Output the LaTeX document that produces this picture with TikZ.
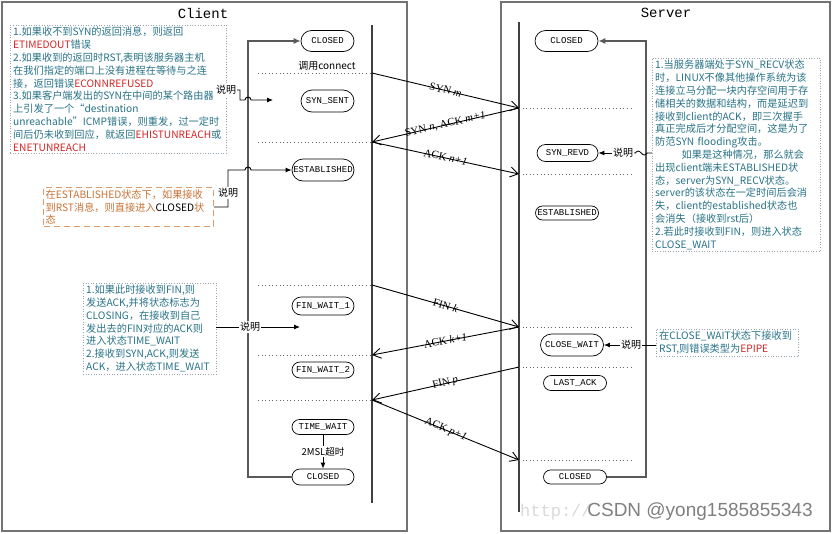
\documentclass[tikz,border=0pt]{standalone}
\usepackage{fontspec}
\setmainfont{Liberation Serif}
\newfontfamily\cjk{Noto Sans CJK SC}
\newfontfamily\monof{Liberation Mono}
\newfontfamily\sansf{Liberation Sans}
\usetikzlibrary{arrows.meta,shapes.misc}
\definecolor{noteblue}{RGB}{40,115,135}
\definecolor{notered}{RGB}{215,35,35}
\definecolor{noteorange}{RGB}{200,115,55}
\definecolor{orangeborder}{RGB}{220,155,105}
\definecolor{dotgray}{RGB}{150,165,175}
\definecolor{framegray}{RGB}{115,115,115}
\begin{document}
\begin{tikzpicture}[x=1pt,y=-1pt,
  statebox/.style={draw, rounded rectangle, font=\monof\fontsize{9}{10}\selectfont, inner xsep=2pt, inner ysep=1pt, line width=0.7pt},
  lifeline/.style={draw=black!75, line width=1.1pt},
  framebox/.style={draw=framegray, line width=1.6pt},
  dotline/.style={draw=black!60, dash pattern=on 1pt off 2.6pt, line width=0.8pt},
  msg/.style={-{Straight Barb[length=8pt,width=10pt]}, line width=0.9pt},
  msglabel/.style={font=\fontsize{11}{12}\selectfont, sloped, midway, inner sep=1pt, yshift=0.5pt},
  notebox/.style={draw=dotgray, dash pattern=on 0.8pt off 1.8pt, align=left, text=noteblue, font=\cjk\fontsize{10.2}{12.8}\selectfont, inner xsep=3pt, inner ysep=2pt, anchor=north west},
  saylabel/.style={font=\cjk\fontsize{10}{11}\selectfont, fill=white, inner sep=1pt},
  retline/.style={draw=black!65, line width=1.4pt},
  pointer/.style={-{Latex[length=6pt,width=5pt]}, line width=0.9pt}
]
\useasboundingbox (0,0) rectangle (832,533);
\fill[white] (0,0) rectangle (832,533);

% frames
\draw[framebox] (2,2) rectangle (407,531);
\draw[framebox] (501,2) rectangle (830,531);
\node[font=\monof\fontsize{14}{16}\selectfont] (clienttitle) at (203,13) {Client};
\node[font=\monof\fontsize{14}{16}\selectfont] (servertitle) at (666,13) {Server};

% lifelines
\coordinate (ctop) at (372,25);
\coordinate (cbot) at (372,503);
\coordinate (stop) at (519,22);
\coordinate (sbot) at (519,512);
\draw[lifeline] (ctop) -- (cbot);
\draw[lifeline] (stop) -- (sbot);

% client states
\node[statebox, minimum width=57pt, minimum height=21pt] (cclosed) at (327.5,41) {CLOSED};
\node[statebox, minimum width=57pt, minimum height=22pt] (csynsent) at (327.5,101) {SYN\_SENT};
\node[statebox, minimum width=66pt, minimum height=22pt] (cest) at (323,170) {ESTABLISHED};
\node[statebox, minimum width=66pt, minimum height=18pt] (cfw1) at (323,306) {FIN\_WAIT\_1};
\node[statebox, minimum width=66pt, minimum height=16pt] (cfw2) at (323,370) {FIN\_WAIT\_2};
\node[statebox, minimum width=66pt, minimum height=15pt] (ctw) at (323,427) {TIME\_WAIT};
\node[statebox, minimum width=66pt, minimum height=16pt] (cclosed2) at (323,477) {CLOSED};

% server states
\node[statebox, minimum width=67pt, minimum height=21pt] (sclosed) at (566.5,41) {CLOSED};
\node[statebox, minimum width=65pt, minimum height=17pt] (ssynrevd) at (567.5,153) {SYN\_REVD};
\node[statebox, minimum width=67pt, minimum height=14pt] (sest) at (567,213) {ESTABLISHED};
\node[statebox, minimum width=67pt, minimum height=22pt] (sclosewait) at (572,345) {CLOSE\_WAIT};
\node[statebox, minimum width=67pt, minimum height=15pt] (slastack) at (575,383) {LAST\_ACK};
\node[statebox, minimum width=67pt, minimum height=14pt] (sclosed2) at (575,477) {CLOSED};

% dotted level lines
\foreach \n/\y in {1/73,2/142,3/285,4/355,5/400}{
  \coordinate (c\n) at (372,\y);
  \coordinate (cl\n) at (258,\y);
  \draw[dotline] (cl\n) -- (c\n);
}
\foreach \n/\y in {1/108,2/174,3/327,4/367,5/460}{
  \coordinate (s\n) at (519,\y);
  \coordinate (sr\n) at (633,\y);
  \draw[dotline] (s\n) -- (sr\n);
}
\node[font=\cjk\fontsize{10}{11}\selectfont, inner sep=1pt] (callconnect) at (327,66) {调用connect};

% messages
\draw[msg] (c1) -- node[msglabel]{SYN \textit{m}} (s1);
\draw[msg] (s1) -- node[msglabel]{SYN \textit{n}, ACK \textit{m+1}} (c2);
\draw[msg] (c2) -- node[msglabel]{ACK \textit{n+1}} (s2);
\draw[msg] (c3) -- node[msglabel]{FIN \textit{k}} (s3);
\draw[msg] (s3) -- node[msglabel]{ACK \textit{k+1}} (c4);
\draw[msg] (s4) -- node[msglabel]{FIN \textit{p}} (c5);
\draw[msg] (c5) -- node[msglabel]{ACK \textit{p+1}} (s5);

% time wait -> closed
\draw[pointer] (ctw.south) -- node[saylabel, font=\cjk\fontsize{9.5}{10}\selectfont]{2MSL超时} (cclosed2.north);

% return lines
\coordinate (cretb) at (248,477);
\coordinate (crett) at (248,41);
\draw[retline, -{Latex[length=7pt,width=6pt]}] (cclosed2.west) -- (cretb) -- (crett) -- (cclosed.west);
\coordinate (sretb) at (646,477);
\coordinate (srett) at (646,41);
\draw[retline, -{Latex[length=7pt,width=6pt]}] (sclosed2.east) -- (sretb) -- (srett) -- (sclosed.east);

% note 1 (top left)
\node[notebox, text width=210pt] (note1) at (10,25) {1.如果收不到SYN的返回消息，则返回\\
\textcolor{notered}{ETIMEDOUT}错误\\
2.如果收到的返回时RST,表明该服务器主机\\
在我们指定的端口上没有进程在等待与之连\\
接，返回错误\textcolor{notered}{ECONNREFUSED}\\
3.如果客户端发出的SYN在中间的某个路由器\\
上引发了一个“destination\\
unreachable”ICMP错误，则重发，过一定时\\
间后仍未收到回应，就返回\textcolor{notered}{EHISTUNREACH}或\\
\textcolor{notered}{ENETUNREACH}};
\node[saylabel] (say1) at (226,90) {说明};
\coordinate (k1) at (240,100);
\coordinate (hop1) at (245,100);
\coordinate (a1) at (273,100);
\draw[pointer] (say1.east) -| (k1) -- (hop1) arc[start angle=180,end angle=0,radius=3pt] -- (a1);

% note 2 (orange)
\node[notebox, draw=orangeborder, dash pattern=on 6pt off 4pt, line width=1.2pt, text=noteorange, text width=166pt, inner xsep=2pt] (note2) at (43,187) {在ESTABLISHED状态下，如果接收\\
到RST消息，则直接进入\textcolor{black}{CLOSED}状\\
态};
\coordinate (k2) at (228,170);
\coordinate (hop2) at (245,170);
\draw[pointer] (note2.east) -| (k2) -- (hop2) arc[start angle=180,end angle=0,radius=3pt] -- (cest.west);
\node[saylabel] (say2) at (228,193) {说明};

% note 3 (middle left)
\node[notebox, text width=127pt] (note3) at (83,283) {1.如果此时接收到FIN,则\\
发送ACK,并将状态标志为\\
CLOSING，在接收到自己\\
发出去的FIN对应的ACK则\\
进入状态TIME\_WAIT\\
2.接收到SYN,ACK,则发送\\
ACK，进入状态TIME\_WAIT};
\coordinate (a3) at (300,327);
\draw[pointer] (note3.east |- a3) -- (a3);
\node[saylabel] (say3) at (250,327) {说明};

% note 4 (server right)
\node[notebox, text width=162pt] (note4) at (652,58) {1.当服务器端处于SYN\_RECV状态\\
时，LINUX不像其他操作系统为该\\
连接立马分配一块内存空间用于存\\
储相关的数据和结构，而是延迟到\\
接收到client的ACK，即三次握手\\
真正完成后才分配空间，这是为了\\
防范SYN flooding攻击。\\
\hspace*{2.6em}如果是这种情况，那么就会\\
出现client端未ESTABLISHED状\\
态，server为SYN\_RECV状态。\\
server的该状态在一定时间后会消\\
失，client的established状态也\\
会消失（接收到rst后）\\
2.若此时接收到FIN，则进入状态\\
CLOSE\_WAIT};
\node[saylabel] (say4) at (623,153) {说明};
\draw[pointer] (say4.west) -- (ssynrevd.east);
\draw[line width=0.8pt] (say4.east) -- ++(1,0) sin ++(3,-2) cos ++(3,2) sin ++(3,2) cos ++(3,-2) -- (note4.west |- say4);

% note 5 (close wait)
\node[notebox, text width=136pt] (note5) at (656,329) {在CLOSE\_WAIT状态下接收到\\
RST,则错误类型为\textcolor{notered}{EPIPE}};
\node[saylabel] (say5) at (631,345) {说明};
\draw[line width=0.9pt] (note5.west |- say5) -- (say5.east);
\draw[pointer] (say5.west) -- (sclosewait.east);

% watermark
\node[font=\monof\fontsize{17}{18}\selectfont, text=black!15, anchor=west, inner sep=0pt] (wmurl) at (520,512) {http://};
\node[font=\sansf\fontsize{19}{20}\selectfont, text=black!50, inner sep=0pt] (wm) at (700,512) {CSDN @yong1585855343};
\end{tikzpicture}
\end{document}
